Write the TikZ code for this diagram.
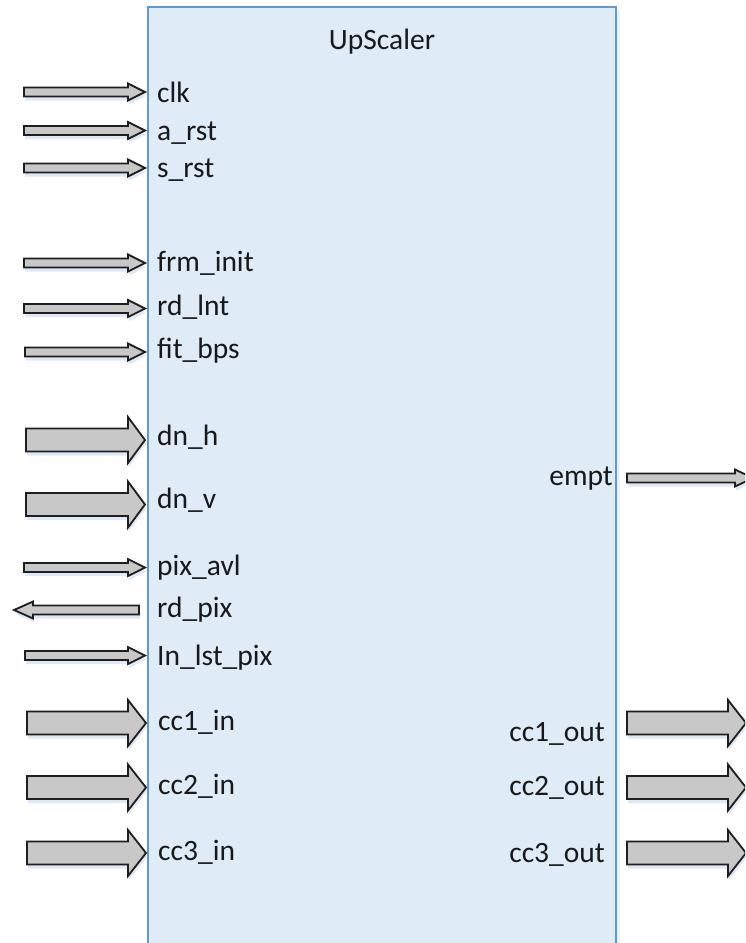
\documentclass[tikz,border=0pt]{standalone}
\usepackage{fontspec}
\setmainfont{Carlito}
\usetikzlibrary{shadows}
\definecolor{boxfill}{RGB}{223,235,247}
\definecolor{boxline}{RGB}{91,155,213}
\definecolor{arrfill}{RGB}{200,200,200}
\definecolor{arrline}{RGB}{30,30,30}
\definecolor{shadowblue}{RGB}{214,228,245}
\newcommand\blockarrow[6]{% tail, head base, tip, y, shaft half, head half
  \draw[arrowst] ({#1},{#4-#5}) -- ({#2},{#4-#5}) -- ({#2},{#4-#6}) -- ({#3},{#4})
    -- ({#2},{#4+#6}) -- ({#2},{#4+#5}) -- ({#1},{#4+#5}) -- cycle;}
\begin{document}
\begin{tikzpicture}[x=1pt,y=-1pt,
  arrowst/.style={fill=arrfill,draw=arrline,line width=1.8pt,line join=miter,
    drop shadow={shadow xshift=1pt,shadow yshift=-4pt,fill=shadowblue,opacity=0.8}},
  lbl/.style={inner sep=0pt,font=\fontsize{29.5}{35}\selectfont,text=black!90}]
\useasboundingbox (0,0) rectangle (745,943);
\clip (0,0) rectangle (745,943);
\fill[white] (0,0) rectangle (745,943);
% block
\fill[shadowblue,opacity=0.5] (151,10) rectangle (620,960);
\draw[fill=boxfill,draw=boxline,line width=1.3pt] (148,7) rectangle (616,960);
\node[lbl,anchor=base] (title) at (382,49) {UpScaler};
% left labels
\node[lbl,anchor=base west] (clk) at (157,102) {clk};
\node[lbl,anchor=base west] (arst) at (157,140) {a\_rst};
\node[lbl,anchor=base west] (srst) at (157,177) {s\_rst};
\node[lbl,anchor=base west] (frm) at (157,271) {frm\_init};
\node[lbl,anchor=base west] (rdlnt) at (157,315) {rd\_lnt};
\node[lbl,anchor=base west] (fit) at (157,358) {fit\_bps};
\node[lbl,anchor=base west] (dnh) at (157,445) {dn\_h};
\node[lbl,anchor=base west] (dnv) at (157,508) {dn\_v};
\node[lbl,anchor=base west] (pix) at (157,575) {pix\_avl};
\node[lbl,anchor=base west] (rdpix) at (157,617) {rd\_pix};
\node[lbl,anchor=base west] (lnlst) at (157,665) {In\_lst\_pix};
\node[lbl,anchor=base west] (cc1i) at (158,730) {cc1\_in};
\node[lbl,anchor=base west] (cc2i) at (158,794) {cc2\_in};
\node[lbl,anchor=base west] (cc3i) at (158,860) {cc3\_in};
% right labels
\node[lbl,anchor=base east] (empt) at (613,485) {empt};
\node[lbl,anchor=base east] (cc1o) at (605,741) {cc1\_out};
\node[lbl,anchor=base east] (cc2o) at (605,795) {cc2\_out};
\node[lbl,anchor=base east] (cc3o) at (605,862) {cc3\_out};
% thin input arrows
\blockarrow{24}{128}{145}{92}{4.5}{8.5}
\blockarrow{24}{128}{145}{130.5}{4.5}{8.5}
\blockarrow{24}{128}{145}{168}{4.5}{8.5}
\blockarrow{24}{128}{145}{263}{4.5}{8.5}
\blockarrow{24}{128}{145}{308.5}{4.5}{8.5}
\blockarrow{25}{128}{145}{352}{4.5}{8.5}
\blockarrow{24}{128}{145}{567.5}{4.5}{8.5}
\blockarrow{139}{33}{14}{610}{4.5}{8.5}
\blockarrow{25}{128}{145}{655.5}{4.5}{8.5}
% wide input arrows
\blockarrow{26}{128}{145}{440}{11.5}{23}
\blockarrow{26}{128}{145}{504.5}{11.5}{23}
\blockarrow{27}{128}{146}{723}{11.5}{23}
\blockarrow{27}{128}{146}{787.5}{11.5}{23}
\blockarrow{27}{128}{146}{853}{11.5}{23}
% outputs
\blockarrow{627}{735}{753}{478}{4.5}{8.5}
\blockarrow{627}{728}{746}{723}{11.5}{23}
\blockarrow{627}{728}{746}{787.5}{11.5}{23}
\blockarrow{627}{728}{746}{853}{11.5}{23}
\end{tikzpicture}
\end{document}
